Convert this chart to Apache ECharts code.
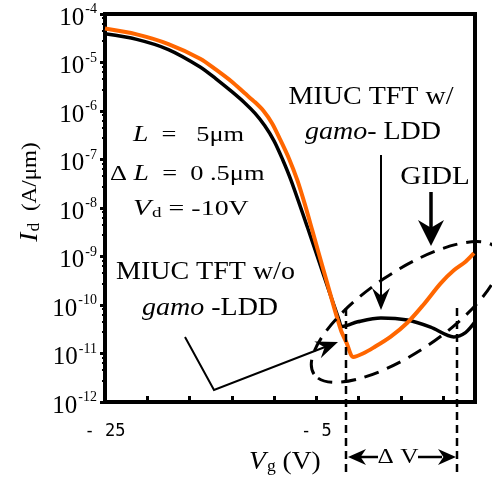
<!DOCTYPE html>
<html><head><meta charset="utf-8">
<script src="https://cdn.jsdelivr.net/npm/echarts@6/dist/echarts.min.js"></script>
<style>html,body{margin:0;padding:0;background:#fff}#c{width:492px;height:477px}</style>
</head><body><div id="c"></div>
<script>
// ---- data ----
const vgBlack = [-25, -22, -19, -16, -14.5, -13, -11.8, -10.8, -9.9, -9.0, -8.2, -7.4, -5.85, -4.3, -2.9, -2.6, -2.1, -1.1, 1.1, 3.6, 5.8, 8.0, 9.1, 10];
const idBlack = [3.9e-5, 3.0e-5, 1.85e-5, 8.1e-6, 4.6e-6, 2.5e-6, 1.48e-6, 8.9e-7, 5.0e-7, 2.4e-7, 1.0e-7, 3.7e-8, 4.0e-9, 4.0e-10, 5.2e-11, 3.6e-11, 3.8e-11, 4.5e-11, 5.4e-11, 4.9e-11, 3.5e-11, 2.2e-11, 2.7e-11, 4.5e-11];
const vgOrange = [-25, -22, -19, -16, -14.5, -13, -11.8, -10.8, -10.0, -9.2, -8.4, -7.6, -6.8, -6.1, -5.4, -4.15, -2.7, -2.15, -1.5, -0.6, 0.4, 2.0, 3.6, 5.1, 6.75, 8.0, 9.1, 9.9];
const idOrange = [5.0e-5, 3.8e-5, 2.4e-5, 1.2e-5, 7.1e-6, 4.0e-6, 2.34e-6, 1.51e-6, 1.0e-6, 5.6e-7, 2.5e-7, 1.05e-7, 3.7e-8, 1.2e-8, 3.5e-9, 3.8e-10, 3.1e-11, 1.66e-11, 8.5e-12, 1.0e-11, 1.32e-11, 2.2e-11, 4.3e-11, 1.0e-10, 2.8e-10, 5.2e-10, 7.8e-10, 1.17e-9];
const xTickValues = [-25, -21, -17, -13, -9, -5, -1, 3, 7];
const xLabelValues = [-25, -5];
const yMin = 1e-12, yMax = 1e-4;

const SERIF = 'Liberation Serif';
const chart = echarts.init(document.getElementById('c'), null, {renderer: 'canvas'});

function arrowHead(tipX, tipY, fromX, fromY, len, hw, notch) {
  const dx = tipX - fromX, dy = tipY - fromY, L = Math.hypot(dx, dy);
  const ux = dx / L, uy = dy / L, nx = -uy, ny = ux;
  const bx = tipX - ux * len, by = tipY - uy * len;
  const mx = tipX - ux * len * notch, my = tipY - uy * len * notch;
  return {type: 'polygon', z: 20, shape: {points: [[tipX, tipY], [bx + nx * hw, by + ny * hw], [mx, my], [bx - nx * hw, by - ny * hw]]}, style: {fill: '#000'}};
}
function line(x1, y1, x2, y2, w, dash) {
  return {type: 'line', z: 20, shape: {x1, y1, x2, y2}, style: {stroke: '#000', lineWidth: w, lineDash: dash || null}};
}
function txt(x, y, text, rich, align, sx) {
  return {type: 'text', z: 20, x, y, scaleX: sx || 1, style: {text, rich, align: align || 'left', verticalAlign: 'middle', fill: '#000', font: '24px ' + SERIF}};
}
const R = (size, italic) => ({fontFamily: SERIF, fontSize: size, fontStyle: italic ? 'italic' : 'normal', color: '#000'});
const SUB = (size) => ({fontFamily: SERIF, fontSize: size, color: '#000', verticalAlign: 'bottom', padding: [0, 0, 0, 1]});

const graphics = [
  // parameter text
  txt(133, 135, '{i|L}{r|  =   5μm}', {i: R(23, true), r: R(22)}, 'left', 1.2),
  txt(110, 174, '{r|Δ }{i|L}{r|  =  0 .5μm}', {i: R(23, true), r: R(22)}, 'left', 1.2),
  txt(133, 209, '{i|V}{s|d}{r| = -10V}', {i: R(23, true), s: SUB(15), r: R(22)}, 'left', 1.27),
  // annotations
  txt(371, 97, '{r|MIUC TFT w/}', {r: R(25)}, 'center', 1.12),
  txt(373, 132, '{i|gamo}{r|- LDD}', {i: R(25, true), r: R(25)}, 'center', 1.12),
  txt(435, 177, '{r|GIDL}', {r: R(26)}, 'center', 1.12),
  txt(116, 272, '{r|MIUC TFT w/o}', {r: R(25)}, 'left', 1.12),
  txt(142, 308, '{i|gamo}{r| -LDD}', {i: R(25, true), r: R(25)}, 'left', 1.12),
  // axis titles
  txt(249, 462, '{i|V}{s|g}{r| (V)}', {i: R(25, true), s: SUB(16), r: R(25)}, 'left', 1.1),
  {type: 'text', z: 20, x: 30, y: 192, rotation: Math.PI / 2, scaleX: 1.1,
   style: {text: '{i|I}{s|d}{r|  (A/μm)}', rich: {i: R(25, true), s: SUB(16), r: R(21)}, align: 'center', verticalAlign: 'middle', fill: '#000'}},
  // arrow from "w/" label
  line(381, 155, 381, 296, 2),
  arrowHead(381, 310, 381, 155, 22, 9, 0.65),
  // GIDL arrow
  line(431, 192, 431, 230, 3.5),
  arrowHead(431, 246, 431, 192, 26, 13, 0.7),
  // "w/o" arrow
  {type: 'polyline', z: 20, shape: {points: [[185, 337], [214, 390], [325, 347]]}, style: {stroke: '#000', lineWidth: 2, fill: null}},
  arrowHead(338, 342, 214, 390, 22, 9, 0.65),
  // dashed verticals
  line(346, 308, 346, 477, 2.5, [8, 5]),
  line(457, 308, 457, 477, 2.5, [8, 5]),
  // Delta V
  line(360, 457, 378, 457, 2.5),
  line(418, 457, 442, 457, 2.5),
  arrowHead(348, 457, 378, 457, 18, 8, 0.7),
  arrowHead(456, 457, 420, 457, 18, 8, 0.7),
  txt(398, 457, '{r|Δ V}', {r: R(22)}, 'center', 1.15),
  // dashed ellipse
  {type: 'ellipse', z: 20, x: 406, y: 312, rotation: 34 * Math.PI / 180, shape: {cx: 0, cy: 0, rx: 111, ry: 40},
   style: {stroke: '#000', lineWidth: 3, fill: null, lineDash: [15, 9]}}
];

chart.setOption({
  animation: false,
  backgroundColor: '#fff',
  grid: {left: 105, right: 17, top: 14, bottom: 75, show: true, borderColor: '#000', borderWidth: 4, containLabel: false, outerBoundsMode: 'none'},
  xAxis: {
    type: 'value', min: -25, max: 10,
    axisLine: {show: true, onZero: false, lineStyle: {color: '#000', width: 4}},
    axisTick: {show: true, inside: true, length: 6, customValues: xTickValues, lineStyle: {color: '#000', width: 3}},
    axisLabel: {customValues: xLabelValues, color: '#000', fontFamily: 'DejaVu Sans Mono', fontSize: 17, margin: 21,
      formatter: v => (v < 0 ? '- ' + Math.abs(v) : String(v))},
    splitLine: {show: false}
  },
  yAxis: {
    type: 'log', logBase: 10, min: yMin, max: yMax,
    axisLine: {show: true, onZero: false, lineStyle: {color: '#000', width: 4}},
    axisTick: {show: true, inside: false, length: 5, lineStyle: {color: '#000', width: 3}},
    minorTick: {show: true, splitNumber: 5, length: 3, lineStyle: {color: '#000', width: 2}},
    splitLine: {show: false},
    axisLabel: {margin: 8, color: '#000',
      formatter: v => '{b|10}{s|' + Math.round(Math.log10(v)) + '}',
      rich: {b: {fontFamily: SERIF, fontSize: 25, color: '#000', padding: [8, 1, 0, 0]},
             s: {fontFamily: SERIF, fontSize: 14, color: '#000', verticalAlign: 'top', padding: [5, 0, 0, 0]}}}
  },
  series: [
    {type: 'line', data: vgBlack.map((x, i) => [x, idBlack[i]]), showSymbol: false, smooth: 0.3, z: 2,
     lineStyle: {color: '#000', width: 3.5}},
    {type: 'line', data: vgOrange.map((x, i) => [x, idOrange[i]]), showSymbol: false, smooth: 0.3, z: 3,
     lineStyle: {color: '#ff6600', width: 4}}
  ],
  graphic: graphics
});
</script></body></html>
